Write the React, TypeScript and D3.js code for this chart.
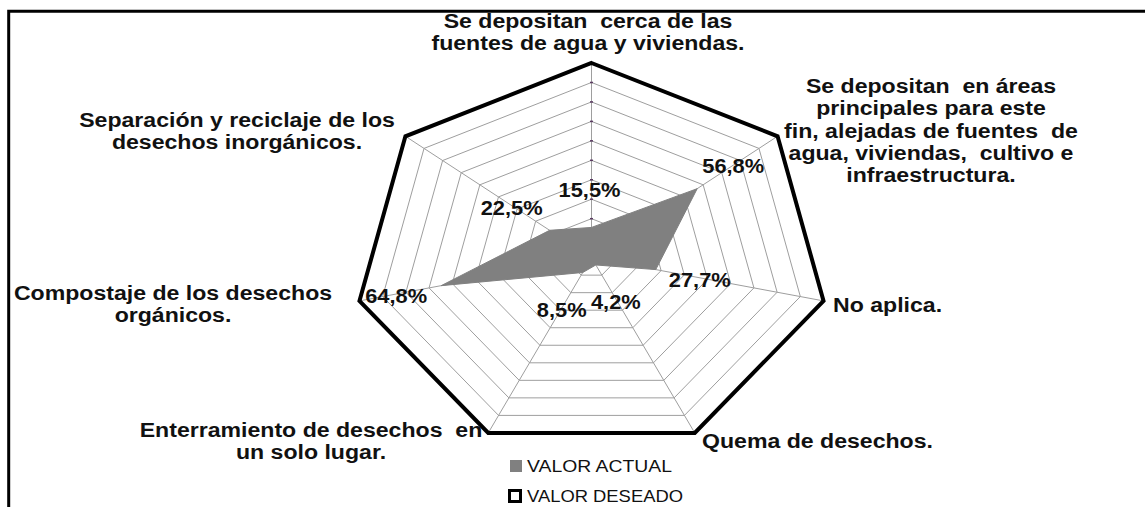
import React from 'react';
import * as d3 from 'd3';

// axis categories, clockwise from the top (each one split into its lines)
const categories: string[][] = [
  ['Se depositan  cerca de las', 'fuentes de agua y viviendas.'],
  ['Se depositan  en áreas', 'principales para este', 'fin, alejadas de fuentes  de', 'agua, viviendas,  cultivo e', 'infraestructura.'],
  ['No aplica.'],
  ['Quema de desechos.'],
  ['Enterramiento de desechos  en', 'un solo lugar.'],
  ['Compostaje de los desechos', 'orgánicos.'],
  ['Separación y reciclaje de los', 'desechos inorgánicos.'],
];

// series
const actualValues = [15.5, 56.8, 27.7, 4.2, 8.5, 64.8, 22.5];
const desiredValues = [100, 100, 100, 100, 100, 100, 100];
const ringTicks = [10, 20, 30, 40, 50, 60, 70, 80, 90, 100];

const legendItems = ['VALOR ACTUAL', 'VALOR DESEADO'];

// layout: where each category label sits (x, first baseline, anchor)
const catLabelPos: [number, number, string][] = [
  [588, 28, 'middle'],
  [931, 93, 'middle'],
  [833, 312, 'start'],
  [702, 448, 'start'],
  [311, 437, 'middle'],
  [173, 300, 'middle'],
  [237, 127, 'middle'],
];
// offsets of the value labels from their point
const valueLabelOffset: [number, number][] = [
  [-2, -30], [36, -16], [44, 17], [20, 44], [-21, 44], [-45, 17], [-38, -15],
];

const W = 1145;
const H = 507;
const cx = 591.5;
const cy = 257.6;
const rx = 238;
const ry = 194.6;
const FONT = '"Liberation Sans", Arial, sans-serif';

const App = () => {
  const r = d3.scaleLinear().domain([0, 100]).range([0, 1]);
  const angle = d3.scaleLinear().domain([0, categories.length]).range([0, 2 * Math.PI]);

  const pt = (i: number, v: number): [number, number] => {
    const a = angle(i);
    return [cx + rx * r(v) * Math.sin(a), cy - ry * r(v) * Math.cos(a)];
  };

  const closed = d3.line().curve(d3.curveLinearClosed);
  const fmt = d3.format('.1f');

  return (
    <svg width={W} height={H} style={{ position: 'absolute', left: 0, top: 0, background: '#fff' }}>
      {/* frame */}
      <path d={`M8.7,${H} V11.3 H${W}`} fill="none" stroke="#000" strokeWidth={3} />

      {/* grid rings */}
      {ringTicks.map(t => (
        <path key={t} d={closed(categories.map((_, i) => pt(i, t))) || ''}
          fill="none" stroke="#9e9e9e" strokeWidth={1} />
      ))}
      {/* spokes */}
      {categories.map((_, i) => {
        const [x, y] = pt(i, 100);
        return <line key={i} x1={cx} y1={cy} x2={x} y2={y} stroke="#9e9e9e" strokeWidth={1} />;
      })}
      {/* small tick marks on the vertical axis */}
      {ringTicks.map(t => {
        const [x, y] = pt(0, t);
        return <line key={t} x1={x - 1.5} x2={x + 1.5} y1={y} y2={y} stroke="#5b3b62" strokeWidth={1.5} />;
      })}

      {/* VALOR ACTUAL */}
      <path d={closed(actualValues.map((v, i) => pt(i, v))) || ''} fill="#808080" stroke="#808080" strokeWidth={1} />

      {/* VALOR DESEADO */}
      <path d={closed(desiredValues.map((v, i) => pt(i, v))) || ''} fill="none" stroke="#000" strokeWidth={4} strokeLinejoin="miter" />

      {/* value labels */}
      {actualValues.map((v, i) => {
        const [x, y] = pt(i, v);
        const [dx, dy] = valueLabelOffset[i];
        return (
          <text key={i} transform={`translate(${x + dx},${y + dy}) scale(1.12,1)`}
            textAnchor="middle" fontFamily={FONT} fontWeight="bold" fontSize={19.5} fill="#111">
            {fmt(v).replace('.', ',') + '%'}
          </text>
        );
      })}

      {/* category labels */}
      {categories.map((lines, i) => {
        const [x, y, anchor] = catLabelPos[i];
        return (
          <g key={i}>
            {lines.map((ln, j) => (
              <text key={j} transform={`translate(${x},${y + j * 22.3}) scale(1.1,1)`}
                textAnchor={anchor} fontFamily={FONT} fontWeight="bold" fontSize={21} fill="#111"
                style={{ whiteSpace: 'pre' }}>
                {ln}
              </text>
            ))}
          </g>
        );
      })}

      {/* legend */}
      <rect x={510} y={460} width={12} height={12} fill="#808080" />
      <text x={527} y={472} fontFamily={FONT} fontSize={16.5} fill="#111" textLength={145} lengthAdjust="spacingAndGlyphs">
        {legendItems[0]}
      </text>
      <rect x={509.5} y={490.5} width={11} height={11} fill="none" stroke="#000" strokeWidth={3} />
      <text x={527} y={502} fontFamily={FONT} fontSize={16.5} fill="#111" textLength={156} lengthAdjust="spacingAndGlyphs">
        {legendItems[1]}
      </text>
    </svg>
  );
};

export default App;
